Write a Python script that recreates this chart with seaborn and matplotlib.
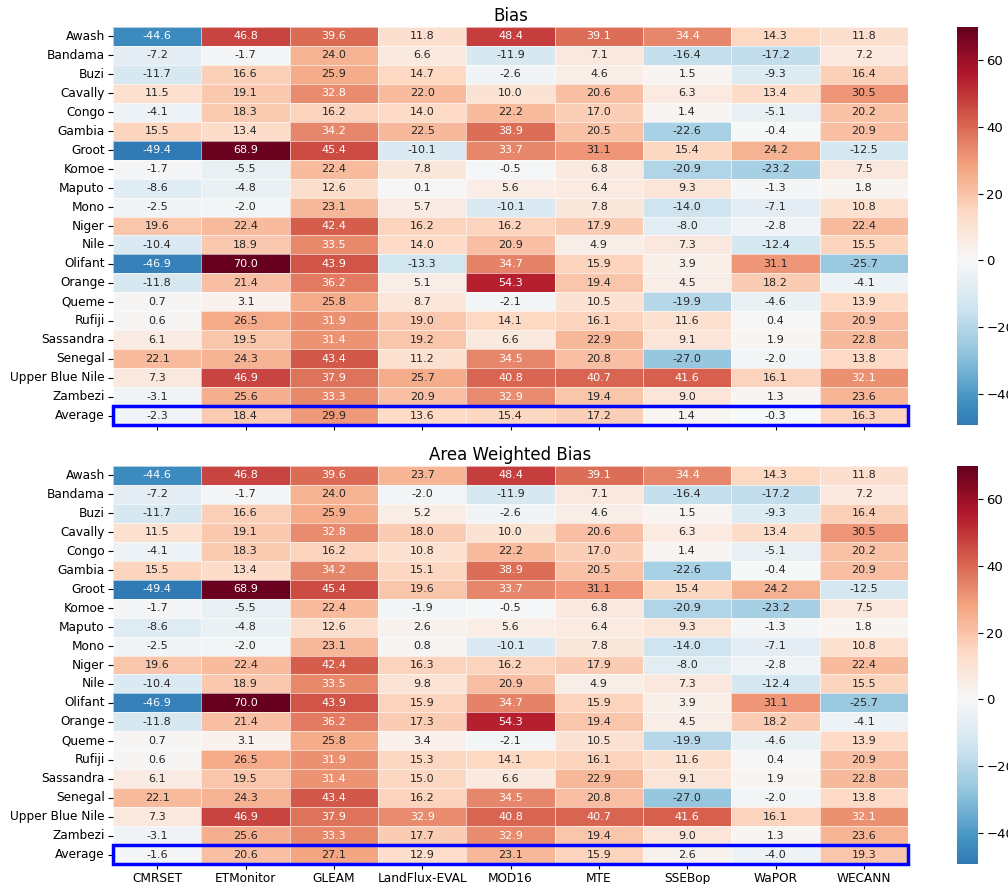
import numpy as np
import pandas as pd
import matplotlib
matplotlib.use("Agg")
import matplotlib.pyplot as plt
import seaborn as sns
from matplotlib.patches import Rectangle

basins = ["Awash", "Bandama", "Buzi", "Cavally", "Congo", "Gambia", "Groot", "Komoe",
          "Maputo", "Mono", "Niger", "Nile", "Olifant", "Orange", "Queme", "Rufiji",
          "Sassandra", "Senegal", "Upper Blue Nile", "Zambezi"]
models = ["CMRSET", "ETMonitor", "GLEAM", "LandFlux-EVAL", "MOD16", "MTE", "SSEBop", "WaPOR", "WECANN"]

cmrset = [-44.6, -7.2, -11.7, 11.5, -4.1, 15.5, -49.4, -1.7, -8.6, -2.5, 19.6, -10.4, -46.9, -11.8, 0.7, 0.6, 6.1, 22.1, 7.3, -3.1]
etmonitor = [46.8, -1.7, 16.6, 19.1, 18.3, 13.4, 68.9, -5.5, -4.8, -2.0, 22.4, 18.9, 70.0, 21.4, 3.1, 26.5, 19.5, 24.3, 46.9, 25.6]
gleam = [39.6, 24.0, 25.9, 32.8, 16.2, 34.2, 45.4, 22.4, 12.6, 23.1, 42.4, 33.5, 43.9, 36.2, 25.8, 31.9, 31.4, 43.4, 37.9, 33.3]
landflux_bias = [11.8, 6.6, 14.7, 22.0, 14.0, 22.5, -10.1, 7.8, 0.1, 5.7, 16.2, 14.0, -13.3, 5.1, 8.7, 19.0, 19.2, 11.2, 25.7, 20.9]
landflux_aw = [23.7, -2.0, 5.2, 18.0, 10.8, 15.1, 19.6, -1.9, 2.6, 0.8, 16.3, 9.8, 15.9, 17.3, 3.4, 15.3, 15.0, 16.2, 32.9, 17.7]
mod16 = [48.4, -11.9, -2.6, 10.0, 22.2, 38.9, 33.7, -0.5, 5.6, -10.1, 16.2, 20.9, 34.7, 54.3, -2.1, 14.1, 6.6, 34.5, 40.8, 32.9]
mte = [39.1, 7.1, 4.6, 20.6, 17.0, 20.5, 31.1, 6.8, 6.4, 7.8, 17.9, 4.9, 15.9, 19.4, 10.5, 16.1, 22.9, 20.8, 40.7, 19.4]
ssebop = [34.4, -16.4, 1.5, 6.3, 1.4, -22.6, 15.4, -20.9, 9.3, -14.0, -8.0, 7.3, 3.9, 4.5, -19.9, 11.6, 9.1, -27.0, 41.6, 9.0]
wapor = [14.3, -17.2, -9.3, 13.4, -5.1, -0.4, 24.2, -23.2, -1.3, -7.1, -2.8, -12.4, 31.1, 18.2, -4.6, 0.4, 1.9, -2.0, 16.1, 1.3]
wecann = [11.8, 7.2, 16.4, 30.5, 20.2, 20.9, -12.5, 7.5, 1.8, 10.8, 22.4, 15.5, -25.7, -4.1, 13.9, 20.9, 22.8, 13.8, 32.1, 23.6]

avg_bias = [-2.3, 18.4, 29.9, 13.6, 15.4, 17.2, 1.4, -0.3, 16.3]
avg_aw = [-1.6, 20.6, 27.1, 12.9, 23.1, 15.9, 2.6, -4.0, 19.3]


def build(landflux, avg):
    cols = [cmrset, etmonitor, gleam, landflux, mod16, mte, ssebop, wapor, wecann]
    df = pd.DataFrame({m: c for m, c in zip(models, cols)}, index=basins)
    df.loc["Average"] = avg
    return df


panels = [("Bias", build(landflux_bias, avg_bias)),
          ("Area Weighted Bias", build(landflux_aw, avg_aw))]

W, H = 1008, 884
fig = plt.figure(figsize=(W / 100, H / 100), dpi=100)

layout = [(27, 425), (466, 864)]
for i, ((title, df), (top, bot)) in enumerate(zip(panels, layout)):
    ax = fig.add_axes([113 / W, 1 - bot / H, (908 - 113) / W, (bot - top) / H])
    cax = fig.add_axes([957 / W, 1 - bot / H, (978 - 957) / W, (bot - top) / H])
    sns.heatmap(df, ax=ax, cbar_ax=cax, cmap="RdBu_r", center=0, annot=True, fmt=".1f",
                annot_kws={"fontsize": 8}, linewidths=0.5, linecolor=(1, 1, 1, 0.6))
    ax.set_title(title, fontsize=12, pad=4)
    ax.tick_params(axis="y", labelsize=8.7, rotation=0, length=3.5, pad=2.5)
    ax.tick_params(axis="x", labelsize=8.7, rotation=0, length=3.5, pad=2)
    if i == 0:
        ax.set_xticklabels([])
    nrow = df.shape[0]
    ax.add_patch(Rectangle((0, nrow - 1), df.shape[1], 1, fill=False, edgecolor="blue",
                           lw=2.5, clip_on=False, zorder=5))
    cax.tick_params(labelsize=9.5, length=3.5, pad=2.5)

fig.savefig("out.png", dpi=100)
